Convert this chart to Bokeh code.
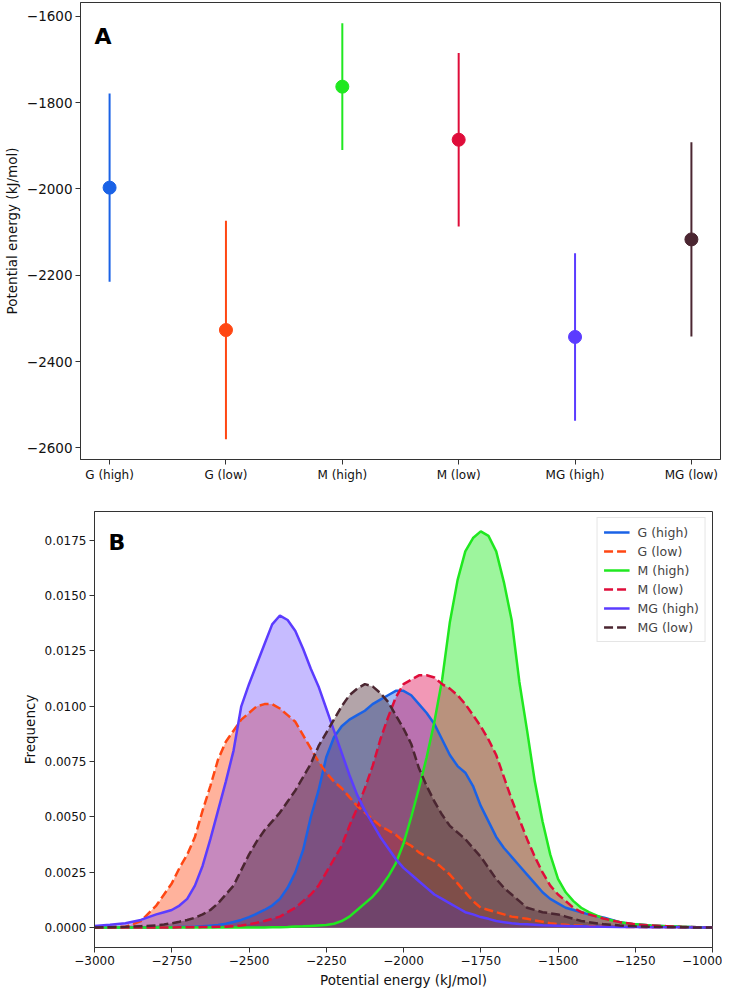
from bokeh.plotting import figure
from bokeh.models import (Range1d, FixedTicker, SingleIntervalTicker, CustomJSTickFormatter,
                          Label, Legend, LegendItem)
from bokeh.embed import file_html
from bokeh.resources import INLINE

# ---------------- data: panel A ----------------
categories = ["G (high)", "G (low)", "M (high)", "M (low)", "MG (high)", "MG (low)"]
means = [-1997, -2327, -1763, -1886, -2343, -2117]
errors = [218, 253, 147, 201, 194, 225]

# ---------------- data: panel B ----------------
energy = [-3000, -2950, -2900, -2850,
          -2800, -2775, -2750, -2725, -2700, -2675, -2650, -2625, -2600, -2575,
          -2550, -2525, -2500, -2475, -2450, -2425, -2400, -2375, -2350, -2325,
          -2300, -2275, -2250, -2225, -2200, -2175, -2150, -2125, -2100, -2075,
          -2050, -2025, -2000, -1975, -1950, -1925, -1900, -1875, -1850, -1825,
          -1800, -1775, -1750, -1725, -1700, -1675, -1650, -1625, -1600, -1575,
          -1550, -1525, -1500, -1475, -1450, -1425, -1400,
          -1350, -1300, -1250, -1200, -1150, -1100, -1050, -1000]

g_high = [0.00001, 0.00001, 0.00001, 0.00001,
          0.00001, 0.00002, 0.00002, 0.00003, 0.00003, 0.00004, 0.00006, 0.00009, 0.00012, 0.00018,
          0.00026, 0.00035, 0.00048, 0.00063, 0.0008, 0.0010, 0.0013, 0.0018, 0.0025, 0.0035,
          0.0050, 0.0062, 0.0077, 0.0086, 0.0091, 0.0094, 0.0096, 0.0098, 0.0101, 0.0103,
          0.0105, 0.0107, 0.0107, 0.0105, 0.0101, 0.0097, 0.0092, 0.0085, 0.0078, 0.0073,
          0.0070, 0.0064, 0.0055, 0.0048, 0.0041, 0.0036, 0.0032, 0.0028, 0.0024, 0.0020,
          0.0016, 0.0013, 0.0011, 0.0009, 0.0008, 0.0007, 0.0006,
          0.00045, 0.00025, 0.00015, 0.0001, 0.00007, 0.00004, 0.00002, 0.00001]
g_low = [0.00001, 0.00002, 0.00004, 0.0003,
         0.0010, 0.0015, 0.0020, 0.0027, 0.0033, 0.0041, 0.0053, 0.0064, 0.0076, 0.0084,
         0.0089, 0.0094, 0.0097, 0.0100, 0.0101, 0.0101, 0.0099, 0.0096, 0.0093, 0.0087,
         0.0081, 0.0075, 0.0070, 0.0066, 0.0063, 0.0059, 0.0055, 0.0052, 0.0049, 0.0046,
         0.0044, 0.0042, 0.0039, 0.0037, 0.0034, 0.0032, 0.0030, 0.0027, 0.0024, 0.0020,
         0.0016, 0.0012, 0.0009, 0.0008, 0.0007, 0.0006, 0.0005, 0.00045, 0.0004, 0.00033,
         0.00027, 0.0002, 0.00016, 0.00013, 0.0001, 0.00009, 0.00007,
         0.00005, 0.00004, 0.00003, 0.00002, 0.00002, 0.00001, 0.00001, 0.00001]
m_high = [0.00001, 0.00001, 0.00001, 0.00001,
          0.00001, 0.00001, 0.00001, 0.00001, 0.00001, 0.00001, 0.00001, 0.00001, 0.00001, 0.00001,
          0.00001, 0.00001, 0.00001, 0.00001, 0.00001, 0.00002, 0.00002, 0.00003, 0.00005, 0.00006,
          0.00008, 0.0001, 0.00012, 0.00018, 0.0003, 0.0005, 0.0008, 0.0011, 0.0014, 0.0018,
          0.0023, 0.0029, 0.0038, 0.0050, 0.0063, 0.0077, 0.0093, 0.0112, 0.0138, 0.0157,
          0.0170, 0.0176, 0.0179, 0.0177, 0.0170, 0.0156, 0.0139, 0.0111, 0.0089, 0.0066,
          0.0048, 0.0033, 0.0022, 0.0016, 0.0012, 0.0009, 0.0007,
          0.0004, 0.00025, 0.00015, 0.0001, 0.00006, 0.00004, 0.00002, 0.00001]
m_low = [0.00001, 0.00001, 0.00001, 0.00001,
         0.00001, 0.00001, 0.00001, 0.00002, 0.00002, 0.00002, 0.00003, 0.00003, 0.00004, 0.00004,
         0.00007, 0.0001, 0.00015, 0.00022, 0.0003, 0.0004, 0.0005, 0.0007, 0.0009, 0.0012,
         0.0015, 0.0019, 0.0025, 0.0031, 0.0037, 0.0046, 0.0054, 0.0063, 0.0073, 0.0085,
         0.0095, 0.0104, 0.0110, 0.0112, 0.0114, 0.0114, 0.0113, 0.0110, 0.0108, 0.0105,
         0.0101, 0.0096, 0.0091, 0.0085, 0.0078, 0.0068, 0.0058, 0.0049, 0.0040, 0.0032,
         0.0025, 0.0019, 0.0015, 0.0012, 0.0009, 0.0007, 0.0006,
         0.0004, 0.00025, 0.00015, 0.0001, 0.00007, 0.00004, 0.00002, 0.00001]
mg_high = [0.00008, 0.00013, 0.0002, 0.00035,
           0.0006, 0.0007, 0.0008, 0.0010, 0.0013, 0.0019, 0.0028, 0.0040, 0.0053, 0.0066,
           0.0080, 0.0100, 0.0110, 0.0119, 0.0128, 0.0137, 0.0141, 0.0139, 0.0134, 0.0126,
           0.0117, 0.0109, 0.0099, 0.0089, 0.0079, 0.0069, 0.0060, 0.0053, 0.0047, 0.0041,
           0.0036, 0.0031, 0.0027, 0.0024, 0.0021, 0.0018, 0.0015, 0.0013, 0.0011, 0.0009,
           0.0007, 0.0006, 0.00048, 0.0004, 0.0003, 0.00025, 0.0002, 0.00017, 0.00015, 0.00013,
           0.00011, 0.0001, 0.00009, 0.00008, 0.00007, 0.00006, 0.00005,
           0.00004, 0.00003, 0.00003, 0.00002, 0.00002, 0.00002, 0.00001, 0.00001]
mg_low = [0.00001, 0.00002, 0.00004, 0.00007,
          0.0001, 0.00014, 0.0002, 0.00027, 0.00035, 0.00045, 0.0006, 0.0008, 0.0011, 0.0015,
          0.0019, 0.0026, 0.0033, 0.0039, 0.0044, 0.0048, 0.0052, 0.0057, 0.0062, 0.0068,
          0.0074, 0.0082, 0.0088, 0.0094, 0.0100, 0.0105, 0.0108, 0.0110, 0.0109, 0.0106,
          0.0102, 0.0096, 0.0090, 0.0083, 0.0072, 0.0064, 0.0057, 0.0051, 0.0046, 0.0043,
          0.0040, 0.0036, 0.0032, 0.0027, 0.0022, 0.0018, 0.0015, 0.0012, 0.0009, 0.0008,
          0.0007, 0.00065, 0.0006, 0.0005, 0.0004, 0.0003, 0.00025,
          0.00015, 0.0001, 0.00006, 0.00004, 0.00003, 0.00002, 0.00001, 0.00001]

series = [g_high, g_low, m_high, m_low, mg_high, mg_low]
line_colors = ["#1a62e6", "#ff4713", "#20e820", "#df0d3a", "#5b3cff", "#4b2631"]
fill_colors = ["#1a62e6", "#ff4713", "#20e820", "#e00a52", "#5b3cff", "#4b2631"]
fill_alphas = [0.42, 0.42, 0.44, 0.42, 0.35, 0.42]
dashes = ["solid", "9 4", "solid", "9 4", "solid", "9 4"]

FONT = "DejaVu Sans"
SPINE = "#333333"

minus_fmt = CustomJSTickFormatter(code="return (tick < 0 ? '\u2212' : '') + Math.abs(tick).toFixed(0);")


def style(p):
    p.outline_line_color = SPINE
    p.outline_line_width = 1
    p.xgrid.visible = False
    p.ygrid.visible = False
    for ax in (p.xaxis, p.yaxis):
        ax.axis_line_color = SPINE
        ax.major_tick_line_color = SPINE
        ax.major_tick_out = 5
        ax.major_tick_in = 0
        ax.minor_tick_out = 0
        ax.minor_tick_in = 0
        ax.major_label_text_font = FONT
        ax.major_label_text_font_size = "12px"
        ax.major_label_text_color = "#111111"
        ax.axis_label_text_font = FONT
        ax.axis_label_text_font_size = "13.5px"
        ax.axis_label_text_font_style = "normal"
        ax.axis_label_text_color = "#111111"
        ax.major_label_standoff = 3
        ax.axis_label_standoff = 4


# ---------------- panel A ----------------
p1 = figure(width=722, height=484, output_backend="svg", toolbar_location=None,
            x_range=Range1d(-0.25, 5.25), y_range=Range1d(-2627, -1568),
            min_border_left=78, min_border_right=2, min_border_top=2, min_border_bottom=24)
style(p1)
xs = list(range(len(categories)))
p1.segment(x0=xs, y0=[m - e for m, e in zip(means, errors)],
           x1=xs, y1=[m + e for m, e in zip(means, errors)],
           line_color=line_colors, line_width=2)
p1.scatter(x=xs, y=means, size=13, fill_color=line_colors, line_color=line_colors)
p1.xaxis.ticker = FixedTicker(ticks=xs)
p1.xaxis.major_label_overrides = {i: c for i, c in enumerate(categories)}
p1.yaxis.ticker = SingleIntervalTicker(interval=200, num_minor_ticks=0)
p1.yaxis.formatter = minus_fmt
p1.yaxis.major_label_text_font_size = "13.5px"
p1.yaxis.axis_label = "Potential energy (kJ/mol)"
p1.yaxis.axis_label_standoff = 4
p1.add_layout(Label(x=-0.13, y=-1647, text="A", text_font=FONT, text_font_style="bold",
                    text_font_size="22px", text_baseline="alphabetic", text_color="#000000"))

# ---------------- panel B ----------------
p2 = figure(width=722, height=506, output_backend="svg", toolbar_location=None,
            x_range=Range1d(-3000, -1000), y_range=Range1d(-0.000895, 0.0188),
            min_border_left=94, min_border_right=10, min_border_top=27, min_border_bottom=42)
style(p2)
for vals, fc, fa in zip(series, fill_colors, fill_alphas):
    p2.varea(x=energy, y1=[0.0] * len(vals), y2=vals, fill_color=fc, fill_alpha=fa)
items = []
for name, vals, lc, d in zip(categories, series, line_colors, dashes):
    r = p2.line(x=energy, y=vals, line_color=lc, line_width=2.5, line_dash=d)
    items.append(LegendItem(label=name, renderers=[r]))
leg = Legend(items=items, location="top_right", label_text_font=FONT, label_text_font_size="12.5px",
             glyph_width=26, glyph_height=16, label_height=16, spacing=3, padding=6, margin=6,
             border_line_color="#cccccc", border_line_width=1, background_fill_alpha=0.9,
             label_standoff=8)
p2.add_layout(leg)
p2.xaxis.ticker = SingleIntervalTicker(interval=250, num_minor_ticks=0)
p2.xaxis.formatter = minus_fmt
p2.yaxis.ticker = SingleIntervalTicker(interval=0.0025, num_minor_ticks=0)
p2.yaxis.formatter = CustomJSTickFormatter(code="return Math.abs(tick).toFixed(4);")
p2.xaxis.axis_label = "Potential energy (kJ/mol)"
p2.yaxis.axis_label = "Frequency"
p2.add_layout(Label(x=-2955, y=0.0174, text="B", text_font=FONT, text_font_style="bold",
                    text_font_size="22px", text_baseline="alphabetic", text_color="#000000"))

# two independent roots, so the two frames are not forced into alignment
open("out.html", "w").write(file_html([p1, p2], INLINE))
